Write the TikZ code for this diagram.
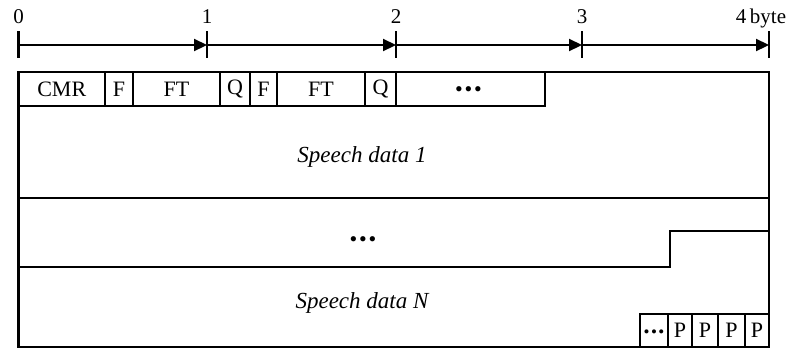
\documentclass[tikz,border=0pt]{standalone}
\usepackage{fontspec}
\setmainfont{Liberation Serif}
\usetikzlibrary{arrows.meta}
\newcommand{\bigdots}{{\fontsize{22}{24}\selectfont •\kern1.8pt•\kern1.8pt•}}
\newcommand{\smalldots}{{\fontsize{17}{18}\selectfont •\kern1.4pt•\kern1.4pt•}}
\begin{document}
\begin{tikzpicture}[x=1pt,y=-1pt,
  ln/.style={line width=2.2pt, line cap=rect},
  fld/.style={draw, line width=2.2pt, inner sep=0pt, minimum height=34pt, font=\fontsize{22}{24}\selectfont},
  pfld/.style={draw, line width=2.2pt, inner sep=0pt, minimum height=33pt, font=\fontsize{22}{24}\selectfont},
  lbl/.style={anchor=base, inner sep=0pt, font=\fontsize{21}{24}\selectfont},
  axarr/.style={line width=2.2pt, -{Triangle[length=13pt,width=12pt]}},
  txt/.style={font=\fontsize{23}{26}\selectfont\itshape, inner sep=0pt},
  dotnode/.style={inner sep=0pt}
]
\useasboundingbox (0,0) rectangle (792,349);
% axis ticks
\foreach \n/\x in {t0/18.5,t1/207,t2/396,t3/582,t4/769}{
  \coordinate (\n top) at (\x,31);
  \coordinate (\n bot) at (\x,58);
  \coordinate (\n) at (\x,45);
  \draw[line width=2.2pt] (\n top) -- (\n bot);
}
\draw[axarr] (t0) -- (t1);
\draw[axarr] (t1) -- (t2);
\draw[axarr] (t2) -- (t3);
\draw[axarr] (t3) -- (t4);
\node[lbl] (l0) at (18.5,23) {0};
\node[lbl] (l1) at (207,23) {1};
\node[lbl] (l2) at (396,23) {2};
\node[lbl] (l3) at (582,23) {3};
\node[lbl] (l4) at (761,23) {4\,byte};
% outer frame
\coordinate (fTL) at (18.5,72);
\coordinate (fBR) at (769,347);
\draw[ln] (fTL) rectangle (fBR);
\coordinate (r1L) at (18.5,198);
\coordinate (r1R) at (769,198);
\draw[ln] (r1L) -- (r1R);
\coordinate (r2L) at (18.5,267);
\coordinate (r2M) at (670,267);
\coordinate (r2U) at (670,231);
\coordinate (r2R) at (769,231);
\draw[line width=2.2pt] (r2L) -- (r2M) -- (r2U) -- (r2R);
% header fields
\node[fld, minimum width=86.5pt] (cmr) at (61.75,89) {CMR};
\node[fld, minimum width=28pt] (f1) at (119,89) {F};
\node[fld, minimum width=87pt] (ft1) at (176.5,89) {FT};
\node[fld, minimum width=30pt] (q1) at (235,89) {Q};
\node[fld, minimum width=27pt] (f2) at (263.5,89) {F};
\node[fld, minimum width=88pt] (ft2) at (321,89) {FT};
\node[fld, minimum width=31pt] (q2) at (380.5,89) {Q};
\node[fld, minimum width=149pt] (hd) at (470.5,89) {};
\node[dotnode] (hddots) at (468.5,92) {\bigdots};
% texts
\node[txt] (sd1) at (362,157) {Speech data 1};
\node[dotnode] (mid) at (363,242) {\bigdots};
\node[txt] (sdn) at (362,303) {Speech data N};
% padding fields
\node[pfld, minimum width=28pt] (pd) at (654,330.5) {};
\node[dotnode] (pddots) at (654,334) {\smalldots};
\node[pfld, minimum width=24pt] (p1) at (680,330.5) {P};
\node[pfld, minimum width=26pt] (p2) at (705,330.5) {P};
\node[pfld, minimum width=27pt] (p3) at (731.5,330.5) {P};
\node[pfld, minimum width=24pt] (p4) at (757,330.5) {P};
\end{tikzpicture}
\end{document}
